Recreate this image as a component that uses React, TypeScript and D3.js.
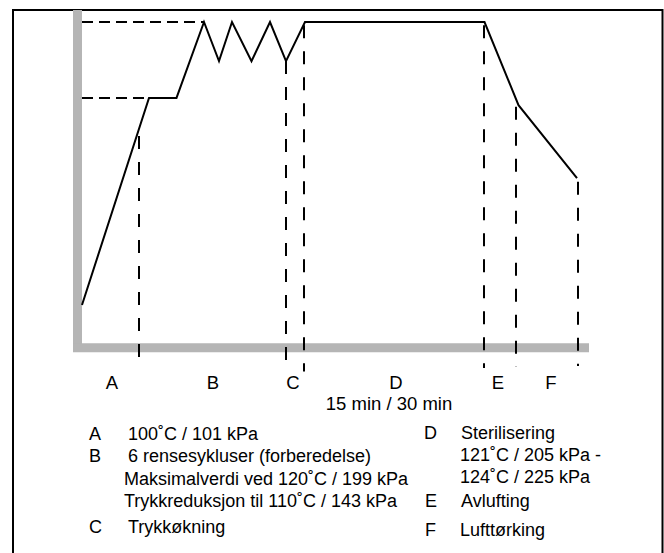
import React from "react";
import * as d3 from "d3";

// Process curve (abstract units: time 0..100, level 0..100)
const curveTime = [0, 13.4, 18.9, 24.4, 27.4, 30, 33.9, 37.6, 40.8, 44.6, 80.5, 87.3, 99];
const curveLevel = [13.2, 76.7, 76.7, 100, 88, 100, 88, 100, 88, 100, 100, 74.5, 52.1];

// Phase boundaries (dashed verticals)
const boundaryTime = [11.4, 40.8, 44.4, 80.4, 86.8, 99.2];
const boundaryTop = [65, 88, 99, 99, 74, 51];
const boundaryBottom = [-5.2, -7.2, -7.2, -6.1, -5.8, -5.5];

// Reference levels (dashed horizontals)
const refLevel = [100, 76.7];
const refEnd = [24.4, 13.4];

// Phase labels under the axis
const phaseLabels = ["A", "B", "C", "D", "E", "F"];
const phaseLabelTime = [6, 26.2, 42.2, 62.8, 83.2, 93.8];
const subLabel = "15 min / 30 min";
const subLabelTime = 61.4;

// Legend
const legendLeftKeys = ["A", "B", "", "", "C"];
const legendLeftText = [
  "100˚C / 101 kPa",
  "6 rensesykluser (forberedelse)",
  "Maksimalverdi ved 120˚C / 199 kPa",
  "Trykkreduksjon til 110˚C / 143 kPa",
  "Trykkøkning",
];
const legendRightKeys = ["D", "", "", "E", "F"];
const legendRightText = [
  "Sterilisering",
  "121˚C / 205 kPa -",
  "124˚C / 225 kPa",
  "Avlufting",
  "Lufttørking",
];

const W = 664;
const H = 553;

export default function App() {
  const x = d3.scaleLinear().domain([0, 100]).range([82, 582]);
  const y = d3.scaleLinear().domain([0, 100]).range([348, 22]);

  const pts: [number, number][] = curveTime.map((t, i) => [t, curveLevel[i]]);
  const line = d3
    .line<[number, number]>()
    .x((d) => x(d[0]))
    .y((d) => y(d[1]));

  const font = "'Liberation Sans', Arial, Helvetica, sans-serif";

  const leftKeyX = 89;
  const leftTextX = [128, 128, 124, 124, 128];
  const leftBase = [440, 462, 485, 507, 533];
  const rightKeyX = [424, 0, 0, 425, 425];
  const rightTextX = [461, 460, 460, 461, 460];
  const rightBase = [439, 461, 483, 507, 536];

  return (
    <svg
      width={W}
      height={H}
      style={{ position: "absolute", left: 0, top: 0, background: "#fff" }}
      fontFamily={font}
    >
      <rect x={0} y={0} width={W} height={H} fill="#fff" />
      {/* frame */}
      <rect x={13} y={10} width={649.5} height={560} fill="none" stroke="#000" strokeWidth={2} />

      {/* gray axes */}
      <line x1={77.5} y1={10} x2={77.5} y2={352} stroke="#b5b5b5" strokeWidth={9} />
      <line x1={73} y1={347.8} x2={589} y2={347.8} stroke="#b5b5b5" strokeWidth={9} />

      {/* reference dashed horizontals */}
      {refLevel.map((v, i) => (
        <line
          key={"h" + i}
          x1={x(0)}
          x2={x(refEnd[i])}
          y1={y(v)}
          y2={y(v)}
          stroke="#000"
          strokeWidth={2}
          strokeDasharray="11 6"
        />
      ))}

      {/* boundary dashed verticals */}
      {boundaryTime.map((t, i) => (
        <line
          key={"v" + i}
          x1={x(t)}
          x2={x(t)}
          y1={y(boundaryTop[i])}
          y2={y(boundaryBottom[i])}
          stroke="#000"
          strokeWidth={2}
          strokeDasharray="13 13"
        />
      ))}

      {/* curve */}
      <path d={line(pts) || ""} fill="none" stroke="#000" strokeWidth={2} strokeLinejoin="miter" />

      {/* phase labels */}
      {phaseLabels.map((l, i) => (
        <text key={"p" + i} x={x(phaseLabelTime[i])} y={389} textAnchor="middle" fontSize={18.5}>
          {l}
        </text>
      ))}
      <text x={x(subLabelTime)} y={410} textAnchor="middle" fontSize={18.5}>
        {subLabel}
      </text>

      {/* legend left */}
      {legendLeftText.map((s, i) => (
        <g key={"ll" + i}>
          {legendLeftKeys[i] && (
            <text x={leftKeyX} y={leftBase[i]} fontSize={18}>
              {legendLeftKeys[i]}
            </text>
          )}
          <text x={leftTextX[i]} y={leftBase[i]} fontSize={18}>
            {s}
          </text>
        </g>
      ))}
      {/* legend right */}
      {legendRightText.map((s, i) => (
        <g key={"lr" + i}>
          {legendRightKeys[i] && (
            <text x={rightKeyX[i]} y={rightBase[i]} fontSize={18}>
              {legendRightKeys[i]}
            </text>
          )}
          <text x={rightTextX[i]} y={rightBase[i]} fontSize={18}>
            {s}
          </text>
        </g>
      ))}
    </svg>
  );
}
